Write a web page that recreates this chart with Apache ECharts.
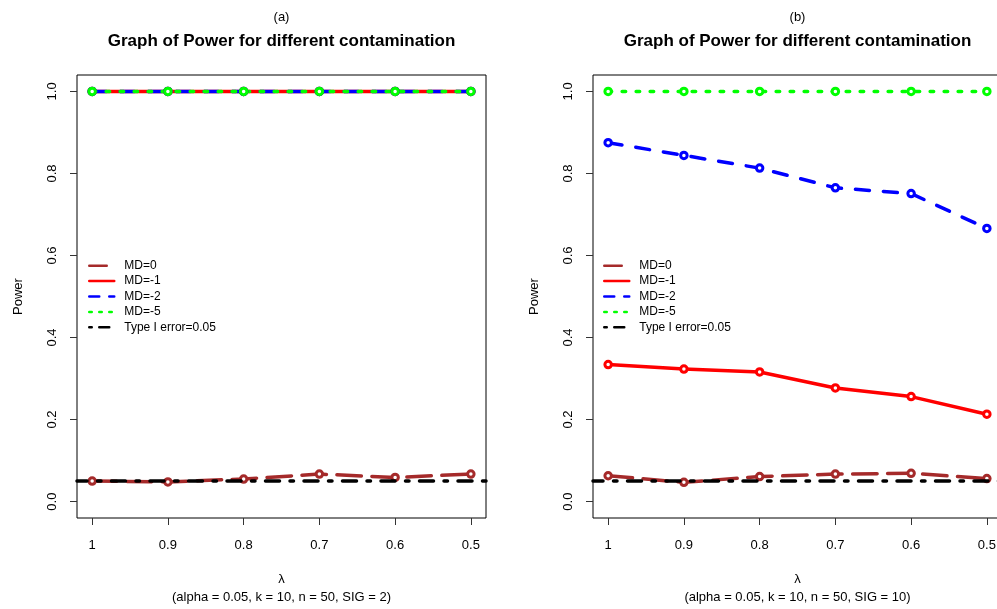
<!DOCTYPE html>
<html>
<head>
<meta charset="utf-8">
<script src="https://cdn.jsdelivr.net/npm/echarts@6/dist/echarts.min.js"></script>
<style>
  html, body { margin: 0; padding: 0; background: #fff; }
  #chart { width: 997px; height: 609px; }
</style>
</head>
<body>
<div id="chart"></div>
<script>
// λ values on the horizontal axis (plotted decreasing)
const lambda = [1, 0.9, 0.8, 0.7, 0.6, 0.5];
const xTicks = [1, 0.9, 0.8, 0.7, 0.6, 0.5];
const yTicks = [0, 0.2, 0.4, 0.6, 0.8, 1.0];

// Panel (a): SIG = 2
const md0A = [0.050, 0.048, 0.055, 0.067, 0.059, 0.067];
const md1A = [1, 1, 1, 1, 1, 1];
const md2A = [1, 1, 1, 1, 1, 1];
const md5A = [1, 1, 1, 1, 1, 1];

// Panel (b): SIG = 10
const md0B = [0.063, 0.047, 0.061, 0.067, 0.069, 0.056];
const md1B = [0.334, 0.323, 0.316, 0.277, 0.256, 0.213];
const md2B = [0.875, 0.844, 0.813, 0.765, 0.751, 0.666];
const md5B = [1, 1, 1, 1, 1, 1];

const typeIError = 0.05;

const seriesNames = ['MD=0', 'MD=-1', 'MD=-2', 'MD=-5', 'Type I error=0.05'];
const titleText = 'Graph of Power for different contamination';
const panelLabels = ['(a)', '(b)'];
const subtitles = ['(alpha = 0.05, k = 10, n = 50, SIG = 2)', '(alpha = 0.05, k = 10, n = 50, SIG = 10)'];

const FONT = '"Liberation Sans", Arial, Helvetica, sans-serif';
const LW = 3.5;
// R-like line types scaled by the line width
const dash = {
  solid: 'solid',
  dashed: [4 * LW, 4 * LW],
  dotted: [1 * LW, 3 * LW],
  dotdash: [1 * LW, 3 * LW, 4 * LW, 3 * LW],
  longdash: [7 * LW, 3 * LW]
};
const LLW = 2.5; // legend line width
const legendDash = {
  solid: 'solid',
  dashed: [4 * LLW, 4 * LLW],
  dotted: [1 * LLW, 3 * LLW],
  dotdash: [1 * LLW, 3 * LLW, 4 * LLW, 3 * LLW],
  longdash: [7 * LLW, 3 * LLW]
};
const styles = [
  { color: '#A52A2A', lty: 'longdash' },
  { color: '#FF0000', lty: 'solid' },
  { color: '#0000FF', lty: 'dashed' },
  { color: '#00FF00', lty: 'dotted' },
  { color: '#000000', lty: 'dotdash' }
];

const grids = [
  { left: 77, top: 75, width: 409, height: 443 },
  { left: 593, top: 75, width: 409, height: 443 }
];
const centers = grids.map(g => g.left + g.width / 2);

function pairs(ys) { return lambda.map((x, i) => [x, ys[i]]); }

function lineSeries(idx, name, ys, k) {
  const st = styles[k];
  return {
    type: 'line', name: name, xAxisIndex: idx, yAxisIndex: idx,
    data: pairs(ys), z: 2,
    symbol: 'circle', symbolSize: 6.5,
    itemStyle: { color: '#fff', borderColor: st.color, borderWidth: 3 },
    lineStyle: { color: st.color, width: LW, type: dash[st.lty], cap: 'round', join: 'round' },
    emphasis: { disabled: true }, silent: true
  };
}

function typeISeries(idx) {
  const st = styles[4];
  return {
    type: 'line', name: seriesNames[4], xAxisIndex: idx, yAxisIndex: idx,
    data: [], z: 4, symbol: 'none',
    itemStyle: { color: st.color },
    lineStyle: { color: st.color, width: LW, type: dash[st.lty], cap: 'round' },
    markLine: {
      silent: true, symbol: ['none', 'none'], z: 4,
      label: { show: false },
      lineStyle: { color: st.color, width: LW, type: dash[st.lty], cap: 'round' },
      emphasis: { disabled: true },
      data: [{ yAxis: typeIError }]
    }
  };
}

const panels = [[md0A, md1A, md2A, md5A], [md0B, md1B, md2B, md5B]];
const series = [];
panels.forEach((p, idx) => {
  p.forEach((ys, k) => series.push(lineSeries(idx, seriesNames[k], ys, k)));
  series.push(typeISeries(idx));
});

function xAxis(idx) {
  return {
    type: 'value', gridIndex: idx, inverse: true, min: 0.48, max: 1.02,
    splitLine: { show: false },
    axisLine: { show: false, onZero: false },
    axisTick: { show: true, inside: false, length: 7, customValues: xTicks, lineStyle: { color: '#333' } },
    axisLabel: { customValues: xTicks, margin: 21, color: '#000', fontSize: 13, fontFamily: FONT,
                 formatter: v => String(+v.toFixed(1)) },
    name: 'λ\n' + subtitles[idx], nameLocation: 'middle', nameGap: 52,
    nameTextStyle: { color: '#000', fontSize: 13, fontFamily: FONT, lineHeight: 18, verticalAlign: 'top' }
  };
}
function yAxis(idx) {
  return {
    type: 'value', gridIndex: idx, min: -0.04, max: 1.04,
    splitLine: { show: false },
    axisLine: { show: false, onZero: false },
    axisTick: { show: true, inside: false, length: 7, customValues: yTicks, lineStyle: { color: '#333' } },
    axisLabel: { customValues: yTicks, rotate: 90, margin: 18, color: '#000', fontSize: 13, fontFamily: FONT,
                 formatter: v => v.toFixed(1) },
    name: 'Power', nameLocation: 'middle', nameGap: 52, nameRotate: 90,
    nameTextStyle: { color: '#000', fontSize: 13, fontFamily: FONT }
  };
}

function legend(left) {
  return {
    show: true, orient: 'vertical', left: left, top: 259.7, padding: 0,
    itemWidth: 25, itemHeight: 12, itemGap: 3.4,
    selectedMode: false,
    itemStyle: { opacity: 0 },
    textStyle: { color: '#000', fontSize: 12, fontFamily: FONT, padding: [0, 0, 0, 5] },
    data: seriesNames.map((n, k) => ({
      name: n,
      lineStyle: { color: styles[k].color, width: LLW, type: legendDash[styles[k].lty], cap: 'round' }
    }))
  };
}

const graphics = [];
centers.forEach((cx, i) => {
  graphics.push({ type: 'text', x: cx, y: 17, silent: true,
    style: { text: panelLabels[i], align: 'center', verticalAlign: 'middle', fill: '#000',
             font: '13px ' + FONT } });
  graphics.push({ type: 'text', x: cx, y: 41.5, silent: true,
    style: { text: titleText, align: 'center', verticalAlign: 'middle', fill: '#000',
             font: 'bold 17px ' + FONT } });
});

const chart = echarts.init(document.getElementById('chart'), null, { renderer: 'canvas' });
chart.setOption({
  animation: false,
  backgroundColor: '#fff',
  grid: grids.map(g => Object.assign({
    show: true, borderColor: '#000', borderWidth: 1, backgroundColor: 'transparent',
    containLabel: false, outerBoundsMode: 'none'
  }, g)),
  xAxis: [xAxis(0), xAxis(1)],
  yAxis: [yAxis(0), yAxis(1)],
  legend: [legend(88), legend(603)],
  graphic: graphics,
  series: series
});
</script>
</body>
</html>
